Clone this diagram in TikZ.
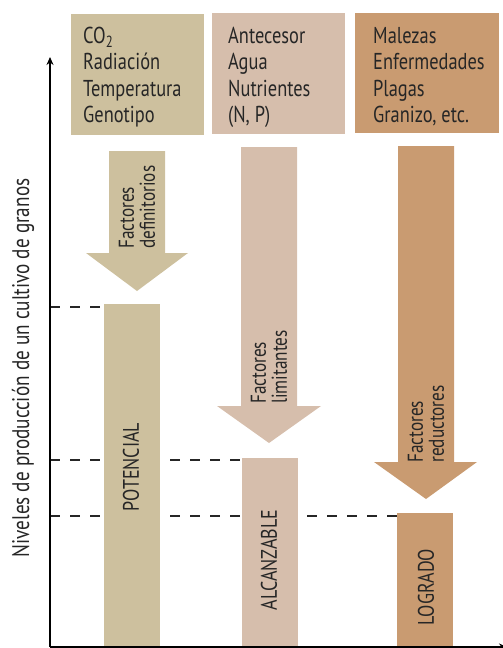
\documentclass[tikz,border=0pt]{standalone}
\usepackage{fontspec}
\setmainfont{PT Sans}[FakeStretch=0.8]
\usetikzlibrary{arrows.meta}
\definecolor{cA}{HTML}{CDC09E}
\definecolor{cB}{HTML}{D6BEAC}
\definecolor{cC}{HTML}{C99B71}
\definecolor{ink}{HTML}{262626}
\begin{document}
\begin{tikzpicture}[x=1pt,y=-1pt,
  toptext/.style={anchor=north west, align=left, inner sep=0pt, text=ink,
    font=\fontsize{23}{26.4}\selectfont},
  rottext/.style={anchor=west, align=left, inner sep=0pt, text=ink, rotate=90,
    font=\fontsize{21.5}{21}\selectfont},
  barlabel/.style={anchor=center, inner sep=0pt, text=ink, rotate=90,
    font=\fontsize{22.5}{24}\selectfont},
  levelline/.style={draw=ink, line width=1.2pt, dash pattern=on 10pt off 10pt},
  axisline/.style={draw=black, line width=1.6pt}
]
\useasboundingbox (0,0) rectangle (503,648);

% top boxes
\fill[cA] (71,14) rectangle (204,135);
\fill[cB] (212,13) rectangle (345,134);
\fill[cC] (355,13) rectangle (499,133);
\node[toptext] (tA) at (83,27) {CO\textsubscript{2}\\Radiación\\Temperatura\\Genotipo};
\node[toptext] (tB) at (228,27) {Antecesor\\Agua\\Nutrientes\\(N, P)};
\node[toptext] (tC) at (373,27) {Malezas\\Enfermedades\\Plagas\\Granizo, etc.};

% arrows
\fill[cA] (109,151) -- (165,151) -- (165,253) -- (188,253) -- (137,291) -- (86,253) -- (109,253) -- cycle;
\fill[cB] (241,147) -- (297,147) -- (297,406) -- (321,406) -- (269,443) -- (217,406) -- (241,406) -- cycle;
\fill[cC] (398,146) -- (454,146) -- (454,462) -- (477,462) -- (426,499) -- (374,462) -- (398,462) -- cycle;
\node[rottext] (fA) at (137,249) {Factores\\definitorios};
\node[rottext] (fB) at (269,404) {Factores\\limitantes};
\node[rottext] (fC) at (426,463) {Factores\\reductores};

% bars
\fill[cA] (104,304) rectangle (160,647);
\fill[cB] (242,458) rectangle (298,647);
\fill[cC] (397,513) rectangle (453,647);
\node[barlabel] (lA) at (131,467) {POTENCIAL};
\node[barlabel] (lB) at (269,560) {ALCANZABLE};
\node[barlabel] (lC) at (426,587) {LOGRADO};

% level lines
\draw[levelline] (50,307) -- (104,307);
\draw[levelline] (50,460) -- (104,460);
\draw[levelline] (170,460) -- (242,460);
\draw[levelline] (50,516) -- (104,516);
\draw[levelline] (170,516) -- (242,516);
\draw[levelline] (307,516) -- (397,516);

% axes
\coordinate (O) at (50,647);
\coordinate (Ytop) at (50,57);
\coordinate (Xend) at (507,647);
\draw[axisline, -{Stealth[length=8pt,width=7pt]}] (O) -- (Ytop);
\draw[axisline, -{Stealth[length=8pt,width=7pt]}] (O) -- (Xend);
\node[anchor=base, inner sep=0pt, rotate=90, text=ink, font=\fontsize{24}{26}\selectfont] (ylab) at (29,368) {Niveles de producción de un cultivo de granos};
\end{tikzpicture}
\end{document}
